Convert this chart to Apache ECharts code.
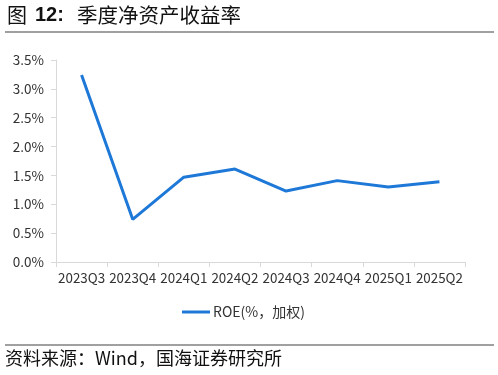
<!DOCTYPE html>
<html><head><meta charset="utf-8">
<script src="https://cdn.jsdelivr.net/npm/echarts@6/dist/echarts.min.js"></script>
<style>html,body{margin:0;padding:0;background:#fff}#c{width:498px;height:375px}</style>
</head><body><div id="c"></div>
<script>
const categories = ['2023Q3','2023Q4','2024Q1','2024Q2','2024Q3','2024Q4','2025Q1','2025Q2'];
const roe = [3.24, 0.74, 1.47, 1.61, 1.23, 1.41, 1.30, 1.39];
const seriesName = 'ROE(%，加权)';
const titleFig = '图';
const titleNum = '12:';
const titleText = '季度净资产收益率';
const sourceText = '资料来源：Wind，国海证券研究所';
const font = '"Noto Sans CJK SC", "Noto Sans", sans-serif';
const chart = echarts.init(document.getElementById('c'));
chart.setOption({
  animation: false,
  textStyle: {fontFamily: font},
  grid: {left: 56, right: 33, top: 60, bottom: 113, containLabel: false},
  legend: {
    data: [seriesName], top: 300, left: 177,
    itemWidth: 28, itemHeight: 3, icon: 'rect', itemGap: 10,
    textStyle: {fontSize: 14, color: '#333', fontFamily: font, padding: [0, 0, 0, -2]}
  },
  xAxis: {
    type: 'category', data: categories, boundaryGap: true,
    axisLine: {lineStyle: {color: '#d9d9d9', width: 1}},
    axisTick: {show: true, alignWithLabel: false, lineStyle: {color: '#d9d9d9'}},
    axisLabel: {color: '#333', fontSize: 13.4, margin: 9, interval: 0}
  },
  yAxis: {
    type: 'value', min: 0, max: 3.5, interval: 0.5,
    splitLine: {show: false},
    axisLine: {show: true, lineStyle: {color: '#d9d9d9'}},
    axisTick: {show: true, lineStyle: {color: '#d9d9d9'}},
    axisLabel: {color: '#333', fontSize: 13.5, margin: 12, formatter: v => v.toFixed(1) + '%'}
  },
  series: [{
    name: seriesName, type: 'line', data: roe,
    symbol: 'none', lineStyle: {color: '#1E78D7', width: 3},
    itemStyle: {color: '#1E78D7'}
  }],
  graphic: [
    {type: 'text', left: 7, top: 5, style: {text: titleFig, font: '20px ' + font, fill: '#111'}},
    {type: 'text', left: 35, top: 5, style: {text: titleNum, font: 'bold 20px "Liberation Sans", Arial, sans-serif', fill: '#111'}},
    {type: 'text', left: 77, top: 5, style: {text: titleText, font: '20.5px ' + font, fill: '#111'}},
    {type: 'line', shape: {x1: 5, y1: 32, x2: 494, y2: 32}, style: {stroke: '#808080', lineWidth: 1.5}},
    {type: 'line', shape: {x1: 5, y1: 345, x2: 494, y2: 345}, style: {stroke: '#808080', lineWidth: 1.5}},
    {type: 'text', left: 5, top: 349, style: {text: sourceText, font: '18px ' + font, fill: '#111'}}
  ]
});
</script></body></html>
